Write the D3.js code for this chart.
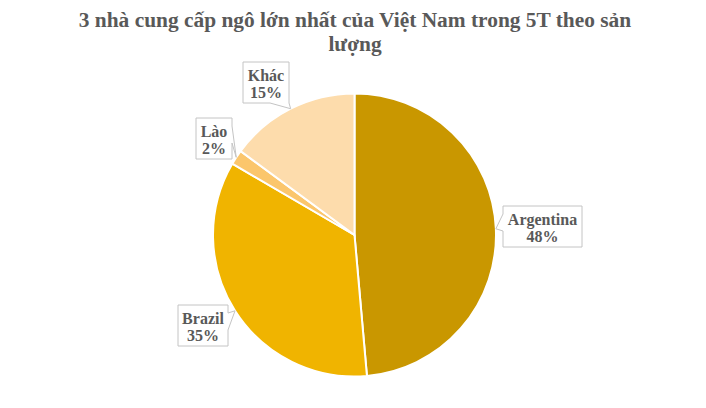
<!DOCTYPE html>
<html>
<head>
<meta charset="utf-8">
<script src="https://cdn.jsdelivr.net/npm/d3@7"></script>
<style>
html, body { margin: 0; padding: 0; background: #fff; }
text { font-family: "Liberation Serif", serif; font-weight: bold; fill: #595959; }
</style>
</head>
<body>
<svg id="chart" width="706" height="408"></svg>
<script>
const title_lines = ["3 nhà cung cấp ngô lớn nhất của Việt Nam trong 5T theo sản", "lượng"];
const categories = ["Argentina", "Brazil", "Lào", "Khác"];
const values = [48.6, 34.8, 1.7, 14.9];
const percent_labels = ["48%", "35%", "2%", "15%"];
const colors = ["#c99700", "#f0b400", "#fbc66c", "#fddcac"];

// label boxes: left, top, right, bottom, and which edge the pointer leaves from
const boxes = [
	{x0: 503, y0: 206, x1: 582, y1: 247, edge: "left"},
	{x0: 178, y0: 305, x1: 228, y1: 346, edge: "right"},
	{x0: 196, y0: 118, x1: 232, y1: 159, edge: "right"},
	{x0: 243, y0: 62,  x1: 289, y1: 103, edge: "bottom"}
];

const cx = 354.5, cy = 235, radius = 141.5;
const svg = d3.select("#chart");

svg.append("g")
   .selectAll("text")
   .data(title_lines)
   .join("text")
   .attr("x", 355)
   .attr("y", (d, i) => 27 + i * 24)
   .attr("text-anchor", "middle")
   .style("font-size", "21.4px")
   .text(d => d);

const pie = d3.pie().sort(null).value(d => d);
const arc = d3.arc().innerRadius(0).outerRadius(radius);
const slices = pie(values);

const plot = svg.append("g").attr("transform", "translate(" + cx + "," + cy + ")");

plot.selectAll("path")
    .data(slices)
    .join("path")
    .attr("d", arc)
    .attr("fill", (d, i) => colors[i])
    .attr("stroke", "#fff")
    .attr("stroke-width", 2);

function callout(box, tip) {
	let b = box;
	if (b.edge == "left") {
		return [[b.x0, b.y0], [b.x1, b.y0], [b.x1, b.y1], [b.x0, b.y1], [b.x0, b.y0 + 25], tip, [b.x0, b.y0 + 8]];
	}
	if (b.edge == "right") {
		return [[b.x0, b.y0], [b.x1, b.y0], [b.x1, b.y0 + 8], tip, [b.x1, b.y0 + 25], [b.x1, b.y1], [b.x0, b.y1]];
	}
	return [[b.x0, b.y0], [b.x1, b.y0], [b.x1, b.y1], tip, [b.x0 + 27, b.y1], [b.x0, b.y1]];
}

const labels = svg.append("g")
    .selectAll("g")
    .data(slices)
    .join("g");

labels.append("path")
      .attr("d", (d, i) => {
	      let mid = (d.startAngle + d.endAngle) / 2;
	      let tip = [cx + radius * Math.sin(mid), cy - radius * Math.cos(mid)];
	      return d3.line()(callout(boxes[i], tip)) + "Z";
      })
      .attr("fill", "#fff")
      .attr("stroke", "#c4c4c4")
      .attr("stroke-width", 1);

labels.append("text")
      .attr("x", (d, i) => (boxes[i].x0 + boxes[i].x1) / 2)
      .attr("y", (d, i) => boxes[i].y0 + 19)
      .attr("text-anchor", "middle")
      .style("font-size", "16px")
      .text((d, i) => categories[i]);

labels.append("text")
      .attr("x", (d, i) => (boxes[i].x0 + boxes[i].x1) / 2)
      .attr("y", (d, i) => boxes[i].y0 + 36)
      .attr("text-anchor", "middle")
      .style("font-size", "16px")
      .text((d, i) => percent_labels[i]);
</script>
</body>
</html>
